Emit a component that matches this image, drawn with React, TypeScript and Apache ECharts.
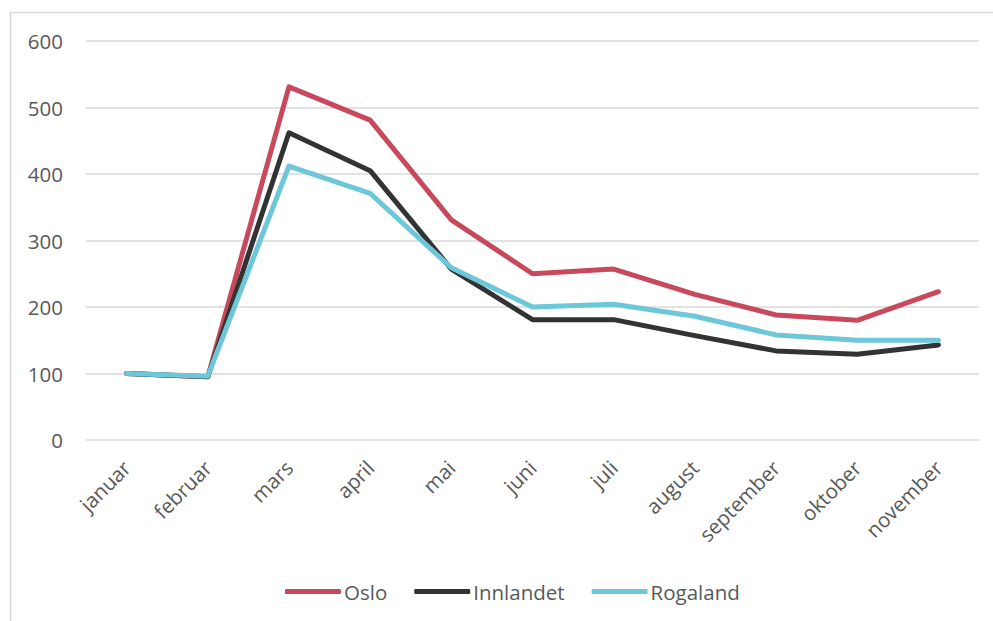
import React, { useEffect, useRef } from "react";
import * as echarts from "echarts";

const months = ["januar", "februar", "mars", "april", "mai", "juni", "juli", "august", "september", "oktober", "november"];
const oslo = [100, 95, 531, 481, 331, 250, 257, 219, 188, 180, 223];
const innlandet = [100, 95, 462, 405, 257, 181, 181, 157, 134, 129, 143];
const rogaland = [100, 96, 412, 371, 259, 200, 204, 186, 158, 150, 150];
const yTicks = { min: 0, max: 600, interval: 100 };

export default function App() {
  const ref = useRef<HTMLDivElement>(null);
  useEffect(() => {
    if (!ref.current) return;
    const chart = echarts.init(ref.current, null, { renderer: "svg" });
    const font = "'Open Sans', 'Noto Sans', sans-serif";
    const mk = (name: string, data: number[], color: string) => ({
      name,
      type: "line",
      data,
      showSymbol: false,
      symbol: "none",
      lineStyle: { color, width: 5, cap: "round", join: "round" },
      itemStyle: { color },
    });
    chart.setOption({
      animation: false,
      backgroundColor: "#ffffff",
      graphic: [
        {
          type: "rect",
          shape: { x: 10.5, y: 12.5, width: 1000, height: 700 },
          style: { fill: "none", stroke: "#d9d9d9", lineWidth: 1.5 },
          silent: true,
        },
      ],
      grid: { left: 86, right: 14, top: 41, bottom: 181 },
      xAxis: {
        type: "category",
        data: months,
        boundaryGap: true,
        axisLine: { show: false },
        axisTick: { show: false },
        axisLabel: { rotate: 45, color: "#595959", fontSize: 20.5, fontFamily: font, margin: 24 },
      },
      yAxis: {
        type: "value",
        min: yTicks.min,
        max: yTicks.max,
        interval: yTicks.interval,
        axisLine: { show: false },
        axisTick: { show: false },
        axisLabel: { color: "#595959", fontSize: 20.5, fontFamily: font, margin: 23 },
        splitLine: { lineStyle: { color: "#d9d9d9", width: 1.5 } },
      },
      legend: {
        left: 280,
        top: 576,
        icon: "roundRect",
        itemWidth: 56,
        itemHeight: 5,
        itemGap: 27,
        textStyle: { color: "#595959", fontSize: 20.5, fontFamily: font, padding: [0, 0, 0, -2] },
        data: ["Oslo", "Innlandet", "Rogaland"],
      },
      series: [
        mk("Oslo", oslo, "#c8495b"),
        mk("Innlandet", innlandet, "#333333"),
        mk("Rogaland", rogaland, "#6cc8d8"),
      ],
    });
    return () => chart.dispose();
  }, []);
  return <div ref={ref} style={{ position: "fixed", left: 0, top: 0, width: 993, height: 621 }} />;
}
